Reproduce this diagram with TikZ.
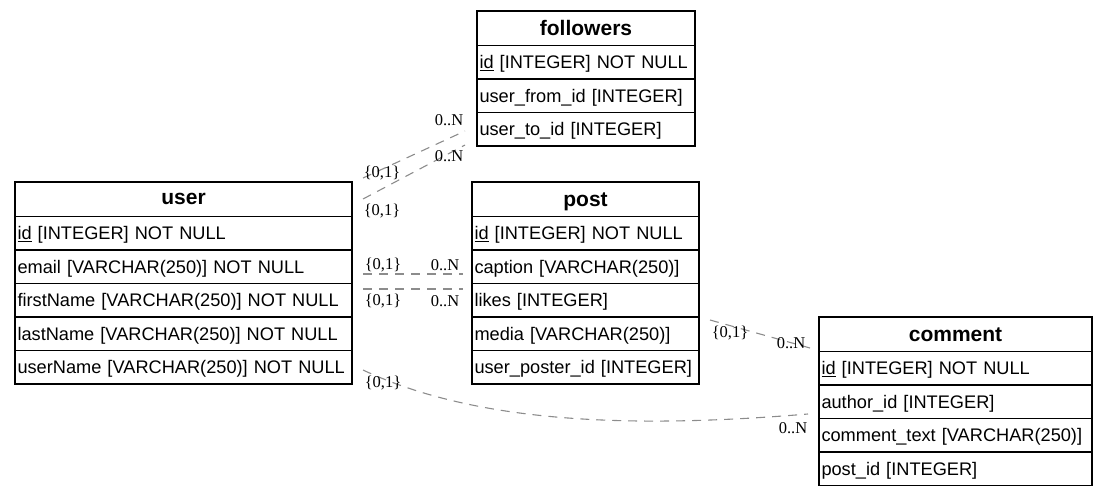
\documentclass[tikz,border=0pt]{standalone}
\usepackage{fontspec}
\setmainfont{Liberation Sans}
\newfontfamily\lblfont{Liberation Serif}
\usetikzlibrary{positioning}

\begin{document}
\begin{tikzpicture}[x=1pt,y=-1pt,
    tblhead/.style={draw,line width=1.1pt,outer sep=0pt,anchor=north west,inner sep=0pt,minimum height=34.5pt,text depth=0pt,font=\fontsize{21}{24}\selectfont\bfseries},
    tblrow/.style={draw,line width=1.1pt,outer sep=0pt,inner xsep=2.5pt,inner ysep=0pt,minimum height=33.5pt,text width=#1,text depth=0pt,align=left,font=\fontsize{18.2}{21}\selectfont},
    rel/.style={draw=black!45,line width=1.1pt,dash pattern=on 9pt off 7pt},
    card/.style={font=\lblfont\fontsize{16.5}{18}\selectfont,inner sep=0pt}]

            \useasboundingbox (0,0) rectangle (1108,496);

            % followers
            \node[tblhead,minimum width=218pt] (followers) at (477,11) {followers};
            \node[tblrow=213pt,below=0pt of followers] (followers-id) {\underline{id} [INTEGER] NOT NULL};
            \node[tblrow=213pt,below=0pt of followers-id] (followers-from) {user\_from\_id [INTEGER]};
            \node[tblrow=213pt,below=0pt of followers-from] (followers-to) {user\_to\_id [INTEGER]};

            % user
            \node[tblhead,minimum width=337pt] (user) at (15,182) {user};
            \node[tblrow=332pt,below=0pt of user] (user-id) {\underline{id} [INTEGER] NOT NULL};
            \node[tblrow=332pt,below=0pt of user-id] (user-email) {email [VARCHAR(250)] NOT NULL};
            \node[tblrow=332pt,below=0pt of user-email] (user-first) {firstName [VARCHAR(250)] NOT NULL};
            \node[tblrow=332pt,below=0pt of user-first] (user-last) {lastName [VARCHAR(250)] NOT NULL};
            \node[tblrow=332pt,below=0pt of user-last] (user-name) {userName [VARCHAR(250)] NOT NULL};

            % post
            \node[tblhead,minimum width=227pt] (post) at (472,182) {post};
            \node[tblrow=222pt,below=0pt of post] (post-id) {\underline{id} [INTEGER] NOT NULL};
            \node[tblrow=222pt,below=0pt of post-id] (post-caption) {caption [VARCHAR(250)]};
            \node[tblrow=222pt,below=0pt of post-caption] (post-likes) {likes [INTEGER]};
            \node[tblrow=222pt,below=0pt of post-likes] (post-media) {media [VARCHAR(250)]};
            \node[tblrow=222pt,below=0pt of post-media] (post-poster) {user\_poster\_id [INTEGER]};

            % comment
            \node[tblhead,minimum width=273pt] (comment) at (819,317) {comment};
            \node[tblrow=268pt,below=0pt of comment] (comment-id) {\underline{id} [INTEGER] NOT NULL};
            \node[tblrow=268pt,below=0pt of comment-id] (comment-author) {author\_id [INTEGER]};
            \node[tblrow=268pt,below=0pt of comment-author] (comment-text) {comment\_text [VARCHAR(250)]};
            \node[tblrow=268pt,below=0pt of comment-text] (comment-post) {post\_id [INTEGER]};

             %edge ends
                 \coordinate (uf1) at (363,178);
                 \coordinate (fu1) at (465,131);
                 \coordinate (uf2) at (363,199);
                 \coordinate (fu2) at (465,145);
                 \coordinate (up1) at (363,274);
                 \coordinate (pu1) at (463,274);
                 \coordinate (up2) at (363,289);
                 \coordinate (pu2) at (463,289);
                 \coordinate (pc) at (710,320);
                 \coordinate (cp) at (810,348);
                 \coordinate (uc) at (363,370);
                 \coordinate (cu) at (808,414);

            \draw[rel] (uf1) -- (fu1);
            \draw[rel] (uf2) -- (fu2);
            \draw[rel] (up1) -- (pu1);
            \draw[rel] (up2) -- (pu2);
            \draw[rel] (pc) -- (cp);
            \draw[rel] (uc) .. controls (480,425) and (640,428) .. (cu);

             %cardinalities
                 \node[card] (c1a) at (382,173) {\{0,1\}};
                 \node[card] (c1b) at (449,120) {0..N};
                 \node[card] (c2a) at (382,211) {\{0,1\}};
                 \node[card] (c2b) at (449,156) {0..N};
                 \node[card] (c3a) at (383,265) {\{0,1\}};
                 \node[card] (c3b) at (445,265) {0..N};
                 \node[card] (c4a) at (383,301) {\{0,1\}};
                 \node[card] (c4b) at (445,301) {0..N};
                 \node[card] (c5a) at (730,333) {\{0,1\}};
                 \node[card] (c5b) at (791,343) {0..N};
                 \node[card] (c6a) at (383,383) {\{0,1\}};
                 \node[card] (c6b) at (793,428) {0..N};
\end{tikzpicture}
\end{document}
